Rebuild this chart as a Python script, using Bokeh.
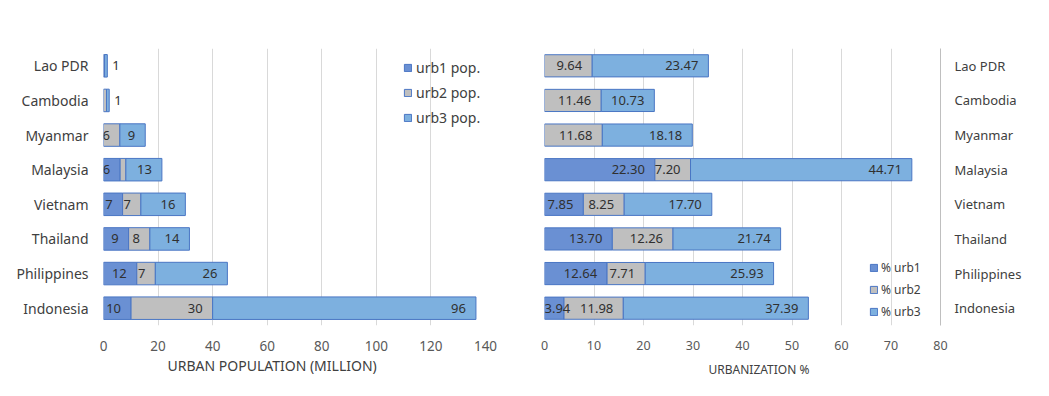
from bokeh.plotting import figure
from bokeh.models import ColumnDataSource, FactorRange, Range1d, FixedTicker, Legend, LegendItem, Title
from bokeh.layouts import row
from bokeh.embed import file_html
from bokeh.resources import INLINE
from bokeh.core.properties import value

countries = ["Lao PDR", "Cambodia", "Myanmar", "Malaysia", "Vietnam", "Thailand", "Philippines", "Indonesia"]

# Urban population (million)
urb1_pop = [0, 0, 0, 6.1, 7.0, 9.2, 12.2, 10.1]
urb2_pop = [0.4, 1.1, 6.0, 2.1, 6.7, 7.8, 6.8, 29.9]
urb3_pop = [1.0, 1.0, 9.3, 13.2, 16.3, 14.5, 26.4, 96.5]
urb1_pop_labels = ["", "", "", "6", "7", "9", "12", "10"]
urb2_pop_labels = ["", "", "6", "", "7", "8", "7", "30"]
urb3_pop_labels = ["1", "1", "9", "13", "16", "14", "26", "96"]
pop_series = ["urb1 pop.", "urb2 pop.", "urb3 pop."]
pop_ticks = [0, 20, 40, 60, 80, 100, 120, 140]
pop_title = "URBAN POPULATION (MILLION)"

# Urbanization %
pct_urb1 = [0, 0, 0, 22.30, 7.85, 13.70, 12.64, 3.94]
pct_urb2 = [9.64, 11.46, 11.68, 7.20, 8.25, 12.26, 7.71, 11.98]
pct_urb3 = [23.47, 10.73, 18.18, 44.71, 17.70, 21.74, 25.93, 37.39]
pct_series = ["% urb1", "% urb2", "% urb3"]
pct_ticks = [0, 10, 20, 30, 40, 50, 60, 70, 80]
pct_title = "URBANIZATION %"

FILLS = ["#6A90D3", "#BFBFBF", "#7DB0DF"]
OUTLINE = "#4A76C4"
FONT = "Noto Sans"
LBL = "#303030"
AX = "#595959"
GRID = "#D9D9D9"


def style_common(p):
    p.outline_line_color = None
    p.background_fill_color = "white"
    p.border_fill_color = "white"
    p.ygrid.grid_line_color = None
    p.xgrid.grid_line_color = GRID
    ax = p.xaxis[0]
    ax.axis_line_color = None
    ax.major_tick_line_color = None
    ax.minor_tick_line_color = None
    ax.major_tick_out = 0
    ax.major_tick_in = 0
    ax.major_label_text_font = FONT
    ax.major_label_text_color = AX


def draw_stack(p, series_vals, label_lists, height, font_size, small_thr, small_mode):
    n = len(countries)
    lefts = [0.0] * n
    renderers = []
    inside = dict(x=[], y=[], t=[])
    left_in = dict(x=[], y=[], t=[])
    outside = dict(x=[], y=[], t=[])
    totals = [sum(v[i] for v in series_vals) for i in range(n)]
    for k, vals in enumerate(series_vals):
        ys, ls, rs = [], [], []
        for i in range(n):
            v = vals[i]
            if v > 0:
                ys.append(countries[i])
                ls.append(lefts[i])
                rs.append(lefts[i] + v)
                t = label_lists[k][i]
                if t:
                    if v < small_thr:
                        if small_mode == "outside":
                            outside["x"].append(totals[i]); outside["y"].append(countries[i]); outside["t"].append(t)
                        else:
                            left_in["x"].append(lefts[i]); left_in["y"].append(countries[i]); left_in["t"].append(t)
                    else:
                        inside["x"].append(lefts[i] + v); inside["y"].append(countries[i]); inside["t"].append(t)
            lefts[i] += v
        src = ColumnDataSource(dict(y=ys, left=ls, right=rs))
        r = p.hbar(y="y", left="left", right="right", height=height, source=src,
                   fill_color=FILLS[k], line_color=OUTLINE, line_width=1)
        renderers.append(r)
    common = dict(text_font=value(FONT), text_font_size=font_size, text_color=LBL, text_baseline="middle")
    if inside["x"]:
        p.text(x="x", y="y", text="t", source=ColumnDataSource(inside), text_align="right", x_offset=-10, **common)
    if left_in["x"]:
        p.text(x="x", y="y", text="t", source=ColumnDataSource(left_in), text_align="left", x_offset=0, **common)
    if outside["x"]:
        p.text(x="x", y="y", text="t", source=ColumnDataSource(outside), text_align="left", x_offset=5, **common)
    return renderers


# ---------------- Left chart ----------------
p1 = figure(width=528, height=383, y_range=FactorRange(*reversed(countries)), x_range=Range1d(0, 140),
            output_backend="svg", toolbar_location=None,
            min_border_left=103, min_border_right=43, min_border_top=48, min_border_bottom=58)
style_common(p1)
p1.xaxis.ticker = FixedTicker(ticks=pop_ticks)
p1.xaxis.major_label_text_font_size = "13.5px"
p1.xaxis.major_label_standoff = 15
ya = p1.yaxis[0]
ya.axis_line_color = None
ya.major_tick_line_color = None
ya.major_tick_out = 0
ya.major_tick_in = 0
ya.major_label_standoff = 15
ya.major_label_text_font = FONT
ya.major_label_text_font_size = "14px"
ya.major_label_text_color = "#404040"
p1.add_layout(Title(text=pop_title, align="left", offset=64, standoff=0, text_font=FONT,
                    text_font_size="14px", text_font_style="normal", text_color="#404040"), "below")

r_pop = draw_stack(p1, [urb1_pop, urb2_pop, urb3_pop],
                   [urb1_pop_labels, urb2_pop_labels, urb3_pop_labels],
                   0.65, "13px", 2.0, "outside")
leg1 = Legend(items=[LegendItem(label=pop_series[k], renderers=[r_pop[k]]) for k in range(3)],
              location=(300, 198), padding=0, margin=0, spacing=6, label_height=17,
              glyph_width=9, glyph_height=9, label_standoff=4,
              background_fill_alpha=0, border_line_color=None,
              label_text_font=FONT, label_text_font_size="14px", label_text_color="#404040")
p1.add_layout(leg1, "center")

# ---------------- Right chart ----------------
p2 = figure(width=505, height=383, y_range=FactorRange(*reversed(countries)), x_range=Range1d(0, 80),
            y_axis_location="right", output_backend="svg", toolbar_location=None,
            min_border_left=16, min_border_right=93, min_border_top=34, min_border_bottom=56)
style_common(p2)
p2.xaxis.ticker = FixedTicker(ticks=pct_ticks)
p2.xaxis.major_label_text_font_size = "12.5px"
p2.xaxis.major_label_standoff = 15
ya2 = p2.yaxis[0]
ya2.axis_line_color = "#BFBFBF"
ya2.major_tick_line_color = None
ya2.major_tick_out = 0
ya2.major_tick_in = 0
ya2.major_label_standoff = 14
ya2.major_label_text_font = FONT
ya2.major_label_text_font_size = "13px"
ya2.major_label_text_color = "#404040"
p2.add_layout(Title(text=pct_title, align="left", offset=164, standoff=12, text_font=FONT,
                    text_font_size="12px", text_font_style="normal", text_color="#404040"), "below")

pct_labels = [[f"{v:.2f}" if v > 0 else "" for v in s] for s in (pct_urb1, pct_urb2, pct_urb3)]
r_pct = draw_stack(p2, [pct_urb1, pct_urb2, pct_urb3], pct_labels,
                   0.64, "13px", 5.0, "start")
leg2 = Legend(items=[LegendItem(label=pct_series[k], renderers=[r_pct[k]]) for k in range(3)],
              location=(325, 5), padding=0, margin=0, spacing=5, label_height=15,
              glyph_width=9, glyph_height=9, label_standoff=3,
              background_fill_alpha=0, border_line_color=None,
              label_text_font=FONT, label_text_font_size="12px", label_text_color="#404040")
p2.add_layout(leg2, "center")

layout = row(p1, p2)
open("out.html", "w").write(file_html(layout, INLINE))
